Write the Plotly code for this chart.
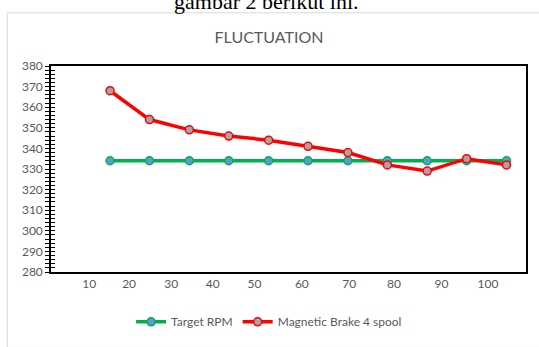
import plotly.graph_objects as go

# ---- data ----
x_values = [14.7, 23.6, 32.6, 41.5, 50.5, 59.4, 68.4, 77.3, 86.3, 95.2, 104.2]
target_rpm = [334, 334, 334, 334, 334, 334, 334, 334, 334, 334, 334]
magnetic_brake = [368, 354, 349, 346, 344, 341, 338, 332, 329, 335, 332]
x_tick_labels = ["10", "20", "30", "40", "50", "60", "70", "80", "90", "100"]
x_tick_positions = [10, 19, 28.5, 37.9, 47.3, 58, 68.7, 78.8, 89.5, 100]
series_names = ["Target RPM", "Magnetic Brake 4 spool"]
chart_title = "FLUCTUATION"
caption_text = "gambar 2 berikut ini."

W, H = 539, 347
L, R, T, B = 51, 11, 66, 68
GRAY = "#595959"
FONT = "Lato"

fig = go.Figure()
fig.add_trace(go.Scatter(
    x=x_values, y=target_rpm, name=series_names[0], mode="lines+markers",
    line=dict(color="#00B050", width=3.5),
    marker=dict(size=8, color="#5B9BD5", line=dict(color="#00B050", width=1.5)),
))
fig.add_trace(go.Scatter(
    x=x_values, y=magnetic_brake, name=series_names[1], mode="lines+markers",
    line=dict(color="#FF0000", width=3.5),
    marker=dict(size=8, color="#A5A5A5", line=dict(color="#FF0000", width=1.5)),
))
# invisible trace to activate overlay axis for crossing ticks
fig.add_trace(go.Scatter(x=[x_values[0]], y=[target_rpm[0]], yaxis="y2",
                         mode="markers", marker=dict(opacity=0),
                         showlegend=False, hoverinfo="skip"))

fig.update_layout(
    width=W, height=H,
    margin=dict(l=L, r=R, t=T, b=B),
    paper_bgcolor="white", plot_bgcolor="white",
    font=dict(family=FONT, color=GRAY, size=12),
    title=dict(text=chart_title, x=(269 - 0) / W, xanchor="center",
               y=1 - 37 / H, yanchor="middle", yref="container",
               font=dict(family=FONT, size=16, color=GRAY)),
    showlegend=True,
    legend=dict(orientation="h", xanchor="center", yanchor="middle",
                x=(270 - L) / (W - L - R), y=(278.5 - 330) / (H - T - B),
                font=dict(family=FONT, size=12, color=GRAY),
                itemwidth=30, bgcolor="rgba(0,0,0,0)"),
    xaxis=dict(range=[1.37, 108.6], showgrid=False, zeroline=False,
               tickmode="array", tickvals=x_tick_positions, ticktext=x_tick_labels,
               ticks="", showline=True, linecolor="black", linewidth=1.5,
               mirror=True, tickfont=dict(family=FONT, size=12, color=GRAY)),
    yaxis=dict(range=[280, 380], dtick=10, showgrid=False, zeroline=False,
               ticks="outside", ticklen=4, tickcolor="black", tickwidth=1,
               minor=dict(dtick=2, ticks="outside", ticklen=4, tickcolor="black", tickwidth=1),
               showline=True, linecolor="black", linewidth=1.5, mirror=True,
               tickfont=dict(family=FONT, size=12, color=GRAY)),
    yaxis2=dict(range=[280, 380], dtick=10, overlaying="y", side="left",
                showgrid=False, zeroline=False, showticklabels=False,
                ticks="inside", ticklen=4, tickcolor="black", tickwidth=1,
                minor=dict(dtick=2, ticks="inside", ticklen=4, tickcolor="black", tickwidth=1),
                showline=False),
)

pw, ph = W - L - R, H - T - B
# outer chart border (light gray)
fig.add_shape(type="rect", xref="paper", yref="paper",
              x0=(7 - L) / pw, x1=(W + 10 - L) / pw,
              y0=(H - B - (H + 10)) / ph, y1=(H - B - 11) / ph,
              line=dict(color="#D9D9D9", width=1), fillcolor="rgba(0,0,0,0)",
              layer="below")

fig.add_annotation(text=caption_text, xref="paper", yref="paper",
                   x=(267 - L) / pw, y=(H - B - 14) / ph,
                   xanchor="center", yanchor="bottom", showarrow=False,
                   font=dict(family="Liberation Serif", size=22, color="black"))

fig.write_html("out.html")
